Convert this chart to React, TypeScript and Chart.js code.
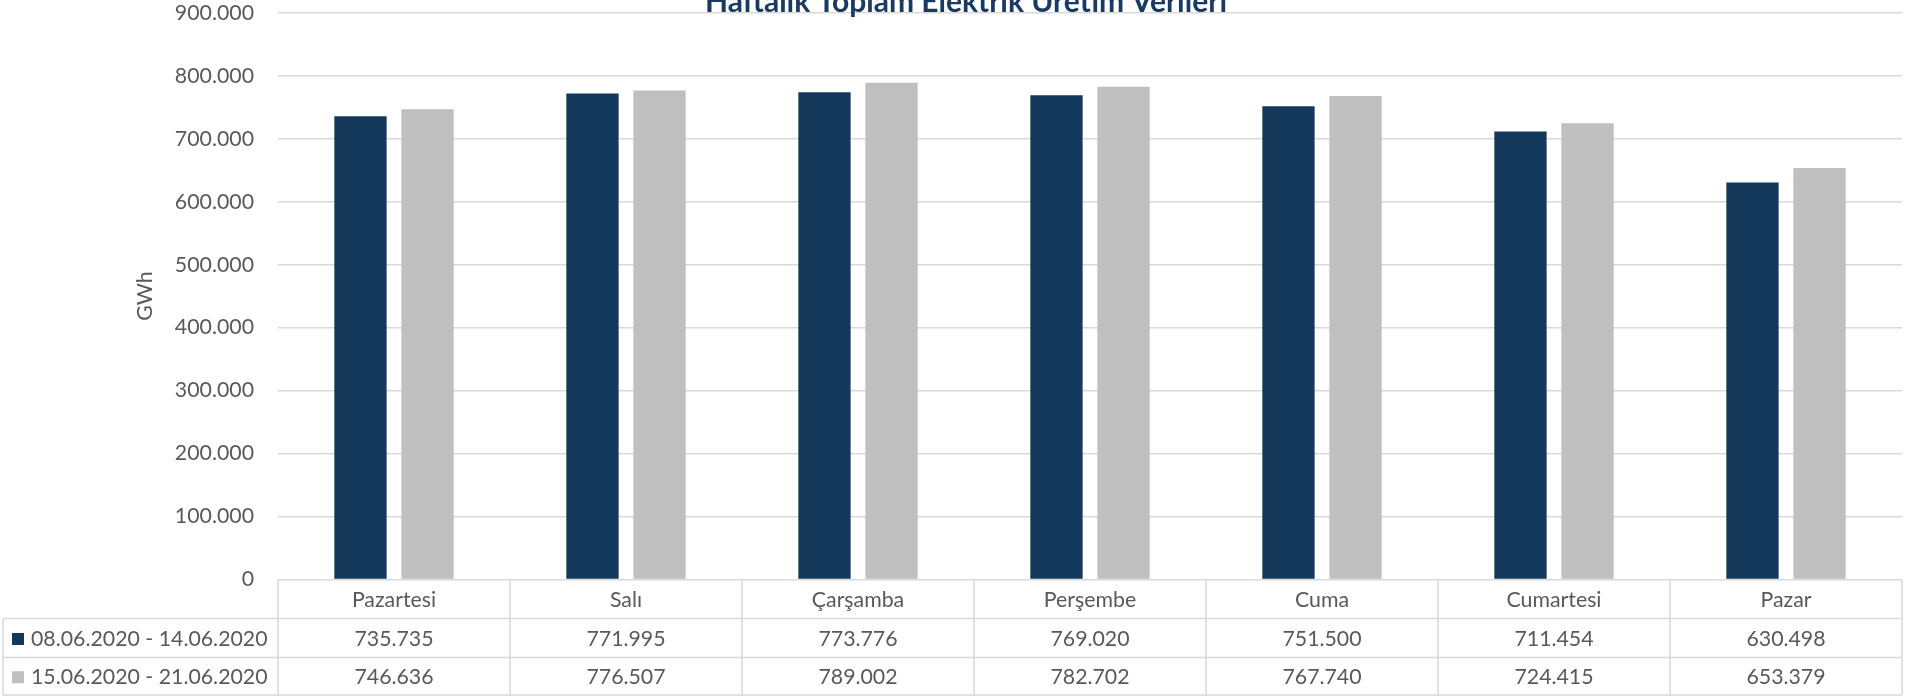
import React, { useEffect, useRef } from "react";
import { Chart, registerables } from "chart.js";

Chart.register(...registerables);

const TITLE = "Haftalık Toplam Elektrik Üretim Verileri";
const Y_TITLE = "GWh";
const CATEGORIES = ["Pazartesi", "Salı", "Çarşamba", "Perşembe", "Cuma", "Cumartesi", "Pazar"];
const SERIES_A_LABEL = "08.06.2020 - 14.06.2020";
const SERIES_B_LABEL = "15.06.2020 - 21.06.2020";
const SERIES_A = [735735, 771995, 773776, 769020, 751500, 711454, 630498];
const SERIES_B = [746636, 776507, 789002, 782702, 767740, 724415, 653379];
const Y_MIN = 0;
const Y_MAX = 900000;
const Y_STEP = 100000;

const COLOR_A = "#14385A";
const COLOR_B = "#BFBFBF";
const TEXT = "#595959";
const GRID = "#D9D9D9";
const TITLE_COLOR = "#1B3A62";
const FONT = "Lato";
const FS = 21.3;

function fmt(v: number): string {
  const s = Math.round(v).toString();
  return s.replace(/\B(?=(\d{3})+(?!\d))/g, ".");
}

const tablePlugin = {
  id: "dataTable",
  afterDraw(chart: any) {
    const ctx = chart.ctx;
    const x = chart.scales.x;
    const area = chart.chartArea;
    const n = CATEGORIES.length;
    const half = (area.right - area.left) / n / 2;
    const top = area.bottom;
    const r1 = 618.5;
    const r2 = 657.5;
    const r3 = 695;
    const legLeft = 3;
    ctx.save();
    ctx.strokeStyle = GRID;
    ctx.lineWidth = 1.5;
    ctx.beginPath();
    [r1, r2, r3].forEach((y) => {
      ctx.moveTo(legLeft, y);
      ctx.lineTo(area.right, y);
    });
    ctx.moveTo(legLeft, r1);
    ctx.lineTo(legLeft, r3);
    for (let i = 0; i <= n; i++) {
      const px = i < n ? x.getPixelForValue(i) - half : x.getPixelForValue(n - 1) + half;
      ctx.moveTo(px, top);
      ctx.lineTo(px, r3);
    }
    ctx.stroke();

    ctx.fillStyle = TEXT;
    ctx.font = `${FS}px ${FONT}`;
    ctx.textAlign = "center";
    ctx.textBaseline = "middle";
    const cy0 = (top + r1) / 2 + 1;
    const cy1 = (r1 + r2) / 2 + 1;
    const cy2 = (r2 + r3) / 2 + 1;
    CATEGORIES.forEach((c, i) => {
      const cx = x.getPixelForValue(i);
      ctx.fillText(c, cx, cy0);
      ctx.fillText(fmt(SERIES_A[i]), cx, cy1);
      ctx.fillText(fmt(SERIES_B[i]), cx, cy2);
    });
    ctx.textAlign = "left";
    ctx.fillText(SERIES_A_LABEL, 31, cy1);
    ctx.fillText(SERIES_B_LABEL, 31, cy2);
    ctx.fillStyle = COLOR_A;
    ctx.fillRect(12, cy1 - 6, 12, 12);
    ctx.fillStyle = COLOR_B;
    ctx.fillRect(12, cy2 - 6, 12, 12);

    ctx.fillStyle = TITLE_COLOR;
    ctx.font = `bold 30px ${FONT}`;
    ctx.textAlign = "center";
    ctx.textBaseline = "alphabetic";
    ctx.fillText(TITLE, 966, 12);
    ctx.restore();
  },
};

export default function App() {
  const ref = useRef<HTMLCanvasElement | null>(null);
  useEffect(() => {
    if (!ref.current) return;
    const chart = new Chart(ref.current, {
      type: "bar",
      data: {
        labels: CATEGORIES,
        datasets: [
          {
            label: SERIES_A_LABEL,
            data: SERIES_A,
            backgroundColor: COLOR_A,
            categoryPercentage: 0.578,
            barPercentage: 0.78,
          },
          {
            label: SERIES_B_LABEL,
            data: SERIES_B,
            backgroundColor: COLOR_B,
            categoryPercentage: 0.578,
            barPercentage: 0.78,
          },
        ],
      },
      options: {
        animation: false,
        responsive: false,
        layout: { padding: { top: 11.5, bottom: 117.5, left: 0, right: 19 } },
        plugins: { legend: { display: false }, tooltip: { enabled: false }, title: { display: false } },
        scales: {
          x: { display: false },
          y: {
            min: Y_MIN,
            max: Y_MAX,
            border: { display: false },
            grid: { color: GRID, lineWidth: 1.5, drawTicks: true, tickLength: 24, tickColor: "rgba(0,0,0,0)" },
            ticks: {
              stepSize: Y_STEP,
              padding: 0,
              color: TEXT,
              font: { family: FONT, size: FS },
              callback: (v: any) => fmt(Number(v)),
            },
            title: {
              display: true,
              text: Y_TITLE,
              color: TEXT,
              font: { family: FONT, size: FS },
              padding: { top: 132, bottom: 0 },
            },
            afterFit: (s: any) => {
              s.width = 278;
            },
          },
        },
      },
      plugins: [tablePlugin],
    });
    return () => chart.destroy();
  }, []);
  return (
    <div style={{ position: "absolute", left: 0, top: 0, width: 1921, height: 697 }}>
      <canvas ref={ref} width={1921} height={697} style={{ width: 1921, height: 697 }} />
    </div>
  );
}
